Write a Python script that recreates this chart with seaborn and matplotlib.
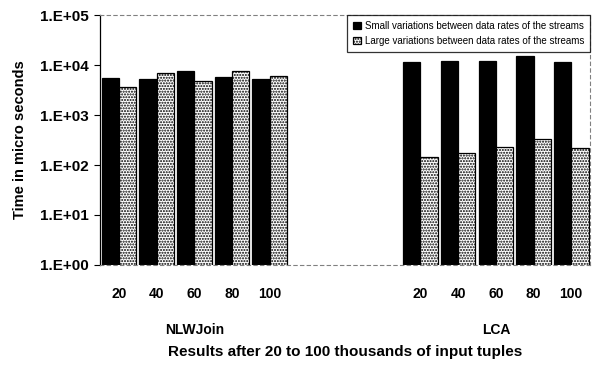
import numpy as np
import pandas as pd
import matplotlib
matplotlib.use("Agg")
import matplotlib.pyplot as plt
import matplotlib.transforms as mtransforms
from matplotlib.ticker import FixedLocator, FuncFormatter, NullLocator
import seaborn as sns

groups = ["NLWJoin", "LCA"]
inputs = ["20", "40", "60", "80", "100"]
series = ["Small variations between data rates of the streams",
          "Large variations between data rates of the streams"]

nlw_small = [5400, 5200, 7700, 5800, 5200]
nlw_large = [3700, 6800, 4800, 7600, 6100]
lca_small = [11600, 12200, 12200, 15100, 11600]
lca_large = [142, 177, 233, 326, 222]

values = {
    ("NLWJoin", series[0]): nlw_small,
    ("NLWJoin", series[1]): nlw_large,
    ("LCA", series[0]): lca_small,
    ("LCA", series[1]): lca_large,
}

rows = []
for (g, s), vals in values.items():
    for x, v in zip(inputs, vals):
        rows.append({"slot": f"{g} {x}", "series": s, "time": v})
df = pd.DataFrame(rows)

# three empty slots between the two groups
gap = ["gap1", "gap2", "gap3"]
order = [f"NLWJoin {x}" for x in inputs] + gap + [f"LCA {x}" for x in inputs]

sns.set_style("white")
plt.rcParams["font.family"] = ["Liberation Sans", "DejaVu Sans"]
plt.rcParams["font.weight"] = "bold"
for key in ["text.color", "axes.labelcolor", "xtick.color", "ytick.color"]:
    plt.rcParams[key] = "black"

fig = plt.figure(figsize=(5.93, 3.70), dpi=100)
ax = fig.add_axes([0.169, 0.284, 0.826, 0.675])

sns.barplot(data=df, x="slot", y="time", hue="series", order=order,
            hue_order=series, palette=["black", "white"], width=0.92,
            edgecolor="black", linewidth=0.9, legend=False, ax=ax)

for p in ax.containers[1]:
    p.set_hatch("......")
    p.set_facecolor("white")

ax.set_yscale("log")
ax.set_ylim(1, 1e5)
ax.set_xlim(-0.5, len(order) - 0.5)
ax.yaxis.set_major_locator(FixedLocator([1, 10, 100, 1e3, 1e4, 1e5]))
ax.yaxis.set_minor_locator(NullLocator())
ax.yaxis.set_major_formatter(FuncFormatter(lambda v, p: "1.E+%02d" % round(np.log10(v))))
ax.tick_params(axis="y", direction="out", length=4, width=0.8, labelsize=11,
               left=True, pad=4)

labels = [t if not t.startswith("gap") else "" for t in order]
labels = [t.split(" ")[-1] for t in labels]
ax.set_xticks(range(len(order)))
ax.set_xticklabels(labels, fontsize=10)
ax.tick_params(axis="x", length=0, pad=16)
ax.set_xlabel("")
ax.set_ylabel("Time in micro seconds", fontsize=10.5, fontweight="bold")
ax.yaxis.set_label_coords(-0.149, 0.5)

for side in ["top", "right", "bottom"]:
    ax.spines[side].set_color("gray")
    ax.spines[side].set_linestyle((0, (3, 3)))
    ax.spines[side].set_linewidth(0.8)
ax.spines["left"].set_color("black")
ax.spines["left"].set_linewidth(0.9)

trans = mtransforms.blended_transform_factory(ax.transData, ax.transAxes)
ax.text(order.index("NLWJoin 60"), -0.26, "NLWJoin", transform=trans,
        ha="center", va="center", fontsize=10)
ax.text(order.index("LCA 60"), -0.26, "LCA", transform=trans,
        ha="center", va="center", fontsize=10)
ax.text(0.5, -0.35, "Results after 20 to 100 thousands of input tuples",
        transform=ax.transAxes, ha="center", va="center", fontsize=11)

leg = ax.legend(ax.containers, series, loc="upper right",
                bbox_to_anchor=(1.0, 1.0), frameon=True,
                prop={"size": 7, "weight": "normal"},
                fancybox=False, edgecolor="black", handlelength=0.8,
                handleheight=0.8, handletextpad=0.4, borderpad=0.6,
                labelspacing=0.5, borderaxespad=0)
leg.get_frame().set_linewidth(0.9)

fig.savefig("out.png", dpi=100)
